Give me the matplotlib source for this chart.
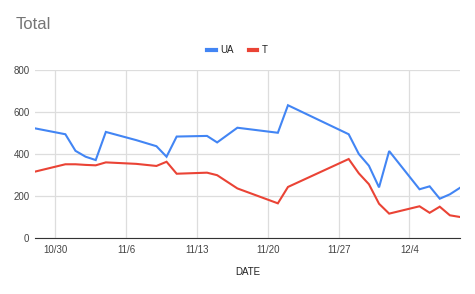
import matplotlib
matplotlib.use("Agg")
import matplotlib.pyplot as plt
from matplotlib.lines import Line2D
import numpy as np

# data
dates = ["2020-10-28", "2020-10-31", "2020-11-01", "2020-11-02", "2020-11-03",
         "2020-11-04", "2020-11-07", "2020-11-09", "2020-11-10", "2020-11-11",
         "2020-11-14", "2020-11-15", "2020-11-17", "2020-11-21", "2020-11-22",
         "2020-11-28", "2020-11-29", "2020-11-30", "2020-12-01", "2020-12-02",
         "2020-12-05", "2020-12-06", "2020-12-07", "2020-12-08", "2020-12-09"]
ua = [522, 494, 415, 387, 371, 505, 466, 437, 387, 483,
      486, 455, 525, 501, 632, 494, 400, 344, 241, 414,
      232, 246, 187, 208, 239]
t = [316, 351, 351, 348, 346, 360, 353, 343, 363, 306,
     311, 299, 236, 165, 243, 376, 308, 256, 163, 116,
     151, 120, 149, 108, 100]
tick_dates = ["2020-10-30", "2020-11-06", "2020-11-13", "2020-11-20",
              "2020-11-27", "2020-12-04"]
tick_labels = ["10/30", "11/6", "11/13", "11/20", "11/27", "12/4"]

BLUE = "#4285F4"
RED = "#EA4335"
plt.rcParams["font.family"] = ["Liberation Sans", "DejaVu Sans"]

x = np.array(dates, dtype="datetime64[D]")
fig = plt.figure(figsize=(4.75, 2.94), dpi=100)
ax = fig.add_axes([0.0737, 0.1905, 0.8947, 0.5715])

ax.plot(x, ua, color=BLUE, lw=1.5, solid_joinstyle="miter")
ax.plot(x, t, color=RED, lw=1.5, solid_joinstyle="miter")

ax.set_xlim(x[0], x[-1])
ax.set_ylim(0, 800)
ax.set_yticks([0, 200, 400, 600, 800])
ax.set_xticks(np.array(tick_dates, dtype="datetime64[D]"))
ax.set_xticklabels(tick_labels)
ax.tick_params(length=0, labelsize=7, colors="#444444", pad=5)
ax.tick_params(axis="y", pad=4)
ax.grid(True, color="#dddddd", lw=0.9)
ax.set_axisbelow(True)
for side in ["top", "right", "left"]:
    ax.spines[side].set_visible(False)
ax.spines["bottom"].set_color("#333333")
ax.spines["bottom"].set_linewidth(0.8)

ax.set_xlabel("DATE", fontsize=7, color="#222222", labelpad=9)
fig.text(0.032, 0.918, "Total", fontsize=12, color="#757575", va="center")

handles = [Line2D([], [], color=BLUE, lw=3), Line2D([], [], color=RED, lw=3)]
fig.legend(handles, ["UA", "T"], loc="center", bbox_to_anchor=(0.5, 0.83),
           ncol=2, frameon=False, fontsize=7, handlelength=0.9,
           handletextpad=0.5, columnspacing=1.5, labelcolor="#222222")

fig.savefig("out.png", dpi=100)
